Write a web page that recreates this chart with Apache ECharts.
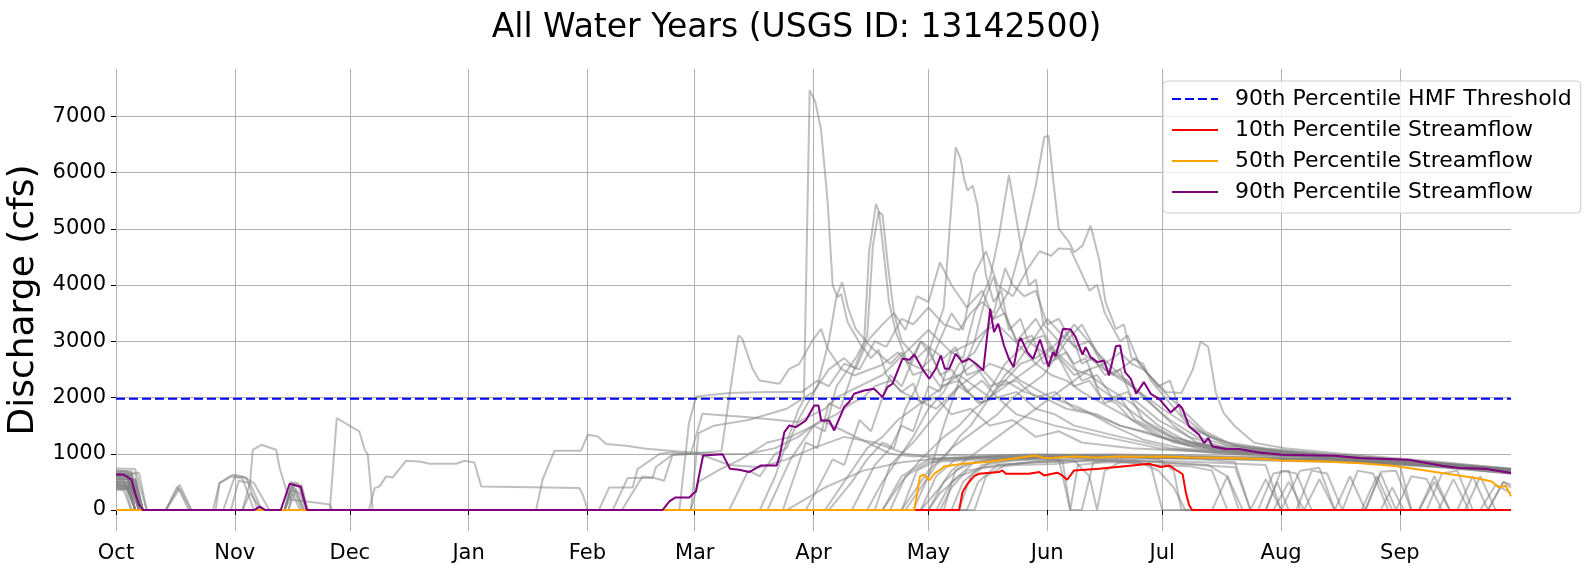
<!DOCTYPE html>
<html>
<head>
<meta charset="utf-8">
<script src="https://cdn.jsdelivr.net/npm/echarts@6/dist/echarts.min.js"></script>
<style>
  html, body { margin: 0; padding: 0; background: #fff; }
  #chart { width: 1593px; height: 571px; }
</style>
</head>
<body>
<div id="chart"></div>
<script>
// axis labels (day of water year, Oct 1 = 0)
const monthNames = ['Oct', 'Nov', 'Dec', 'Jan', 'Feb', 'Mar', 'Apr', 'May', 'Jun', 'Jul', 'Aug', 'Sep'];
const monthStarts = [0, 31, 61, 92, 123, 151, 182, 212, 243, 273, 304, 335];
const yTicks = [0, 1000, 2000, 3000, 4000, 5000, 6000, 7000];

const hmfThreshold = 1980;

// percentile curves, [day, cfs]
const p10 = [[0,0],[220,0],[220.9,320],[222.2,467],[223.9,604],[225.2,645],[230.4,675],[231.3,704],[232.2,645],[238.2,645],[240.9,675],[242.2,615],[244.3,645],[245.6,663],[246.9,615],[248.2,538],[250,704],[256.5,734],[265.2,793],[269.5,822],[272.6,764],[274.8,793],[276.5,716],[278.3,640],[279.2,300],[280,90],[280.8,0],[364,0]];

const p50 = [[0,0],[208.3,0],[209.8,604],[210.9,627],[212.2,526],[213.5,645],[214.8,704],[216.1,775],[220.9,822],[227,852],[233.9,911],[240,970],[242.2,923],[244.8,930],[250,950],[256,935],[262,950],[268,945],[273,952],[280,935],[290,924],[300,905],[304,880],[315.8,864],[325,830],[333,787],[340,720],[346,657],[354.7,568],[359,508],[360.8,402],[362.6,432],[364,242]];

const p90 = [[0,630],[2,630],[4,540],[5,300],[6,100],[7,0],[36,0],[37.5,60],[39,0],[43,0],[45.3,467],[46.3,450],[47.6,420],[48.2,420],[49.8,0],[142.6,0],[144.4,153],[146,224],[149.6,224],[150.5,284],[151.3,330],[153.2,970],[158.3,990],[160.2,734],[162.6,716],[165.2,675],[168.3,793],[172.4,793],[173.2,970],[174.4,1386],[175.7,1503],[177.4,1474],[180,1592],[182.2,1858],[183.3,1858],[184,1592],[186.1,1592],[187.4,1414],[190,1830],[191.3,1919],[192.6,2066],[195.2,2125],[197.8,2155],[198.7,2096],[200,2007],[201.3,2185],[202.6,2244],[205.2,2688],[207,2670],[208.3,2764],[210.4,2510],[212.2,2333],[213.9,2510],[215.2,2747],[216.3,2510],[217.4,2510],[219.1,2777],[220.9,2629],[222.6,2688],[224.4,2600],[226.3,2481],[228.1,3576],[229.1,3162],[230.2,3310],[231.7,2925],[233,2688],[234.2,2540],[235.5,2985],[236.1,3056],[237.8,2807],[239.3,2688],[241.1,3031],[243.3,2550],[244.5,2807],[245.2,2736],[247.1,3221],[249.1,3209],[250.4,3074],[252.2,2764],[253,2896],[254.3,2718],[256.1,2629],[257.8,2658],[259.1,2392],[260.9,2913],[262,2925],[263.3,2451],[264.8,2333],[266.2,2066],[268.2,2274],[270,2066],[272.2,1977],[275.2,1734],[277.4,1871],[278.2,1812],[280,1485],[282.6,1338],[283.9,1190],[285,1279],[286.1,1130],[289.5,1084],[293,1084],[298.2,1023],[304.3,982],[318.2,965],[324.3,924],[337.3,894],[346,787],[350.4,746],[357.3,734],[364,660]];

// individual water years, [day, cfs]
const wy01 = [[0,700],[4,690],[6,0],[44,0],[46,450],[48,420],[50,0],[168,0],[172,600],[175,1200],[178,1780],[179.5,1960],[181,7467],[182.5,7250],[184,6750],[185.7,5470],[187,4000],[188.3,3780],[189.2,3843],[190.9,3340],[194.4,2925],[197,2700],[199,2850],[201,2400],[205,2100],[208,2250],[210,1900],[214,2000],[218,1700],[223,1800],[228,1500],[234,1600],[240,1300],[246,1400],[252,1200],[265,1100],[280,1050],[300,1000],[320,900],[340,820],[364,700]];
const wy02 = [[0,650],[5,640],[7,0],[126,0],[128.7,402],[134.8,402],[136.1,728],[141.8,995],[144.4,1023],[150,1000],[158,1050],[160,2000],[162.4,3102],[163.4,3043],[166.1,2510],[167.9,2303],[173.1,2244],[175.7,2510],[178.3,2599],[181.7,3013],[184,3221],[185.7,2866],[189.2,2510],[192.6,2392],[196,2481],[199.6,2570],[204,2800],[207,2600],[210,3000],[213,2850],[216,2700],[219,2900],[222,2400],[226,2500],[230,2200],[235,2300],[240,2000],[245,2100],[250,1800],[256,1700],[262,1500],[275,1250],[290,1100],[310,1000],[335,880],[364,720]];
const wy03 = [[0,600],[3,580],[5,0],[33,0],[35,300],[38,0],[170,0],[176,900],[182,1500],[185,1400],[188,2200],[193,2700],[195.2,2985],[196.5,4583],[198.3,5441],[199.1,5294],[200.4,4523],[201.7,3695],[203.5,3162],[206.5,2629],[210,2510],[213,2700],[216,2300],[220,2400],[224,2600],[228,2200],[232,2300],[237,2100],[242,2000],[248,1800],[255,1700],[262,1500],[268,1400],[280,1150],[295,1050],[315,950],[340,850],[364,700]];
const wy04 = [[0,520],[4,500],[6,0],[45,0],[47,380],[49,0],[174,0],[180,1200],[183,1100],[186,1900],[189,1800],[192,2400],[196,3100],[197.5,4700],[199,5300],[200,5250],[201.5,4300],[203,3500],[205,3000],[209,2700],[212,2900],[215,2400],[218,2500],[222,2100],[226,2300],[230,2000],[235,2100],[240,1800],[245,1700],[250,1500],[262,1300],[275,1100],[290,1000],[310,950],[335,850],[364,720]];
const wy05 = [[0,450],[3,430],[5,0],[13,0],[16.6,450],[19.7,0],[160,0],[165,700],[168,600],[172,1000],[175,1100],[178,1600],[183,2200],[186,3000],[188,3800],[189.5,4050],[191,3600],[193,3221],[197,2900],[202,2600],[205,2800],[208,2400],[212,2500],[215,2200],[220,2300],[225,1900],[230,2000],[235,1700],[245,1500],[258,1300],[272,1100],[290,1000],[310,920],[335,820],[364,680]];
const wy06 = [[0,560],[5,550],[7,0],[186,0],[192,500],[196,900],[200,1200],[203,1100],[206,1800],[209,2200],[212,2800],[216,3600],[219.1,6449],[220.4,6241],[221.3,5886],[222.2,5678],[223.5,5767],[224.8,5411],[225.7,4878],[227,4168],[229,3700],[231,3900],[233,3200],[236,3400],[238,3000],[242,3100],[245,2700],[248,2800],[252,2300],[256,2400],[260,2000],[264,2100],[268,1600],[276,1300],[285,1100],[300,1000],[320,920],[345,800],[364,680]];
const wy07 = [[0,480],[4,470],[6,0],[28,0],[31,600],[34,580],[37,0],[192,0],[198,800],[202,1100],[205,1500],[208,1400],[212,2200],[215,2100],[218,2800],[221,2700],[224,3500],[228,4100],[230.4,4878],[233,5957],[234.8,5233],[236.1,4700],[238.2,3990],[240,4100],[242,3300],[246,3000],[249,3200],[252,2600],[255,2700],[258,2400],[262,2500],[265,2000],[272,1600],[280,1300],[290,1100],[305,1000],[325,900],[345,780],[364,650]];
const wy08 = [[0,620],[4,610],[6,0],[196,0],[200,500],[204,900],[208,1300],[212,1800],[216,2100],[220,2600],[224,2800],[228,3300],[233,3900],[237.4,4997],[240,5767],[242.2,6627],[243.3,6655],[243.8,6360],[244.7,5767],[246,4997],[248.7,4761],[250,4583],[252.2,4700],[254.3,5056],[256.5,4464],[258.2,3695],[260.9,3221],[263,3300],[265,2700],[268,2600],[270,2300],[275,1900],[280,1500],[290,1150],[302,1050],[320,950],[345,820],[364,700]];
const wy09 = [[0,400],[3,380],[5,0],[180,0],[184,500],[187,900],[190,800],[194,1600],[197,1400],[202,2400],[205,2200],[210,3000],[213,2700],[218,3500],[221,3200],[224,4200],[227,4600],[230,4000],[234,3800],[238,4300],[241,4600],[244,4520],[246,4650],[249,4640],[251,4350],[254,3900],[256,4000],[258,3500],[262,3000],[264,3100],[267,2600],[272,2200],[275,2300],[278,1700],[285,1300],[295,1100],[315,980],[340,850],[364,700]];
const wy10 = [[0,740],[5,730],[8,0],[150,0],[152,1368],[156,1500],[165,1600],[175,1800],[182,2100],[186,2500],[190,2700],[193,2500],[196,3000],[200,3300],[203,3500],[206,3200],[209,3800],[212,3700],[215,4400],[218,4000],[222,3600],[226,3900],[229,3400],[232,3500],[235,3000],[239,3100],[242,2600],[246,2700],[250,2200],[254,2300],[258,1900],[262,2000],[266,1600],[275,1300],[285,1150],[300,1050],[320,950],[345,830],[364,700]];
const wy11 = [[0,0],[147,0],[149.5,1545],[151.4,2018],[160,2080],[170,2096],[179,2100],[183,2300],[186,2200],[190,2600],[194,2500],[198,3000],[201,2900],[205,3400],[208,3300],[212,3600],[216,3300],[220,3200],[223,3500],[226,3700],[229,3500],[232,4300],[234,4000],[237,3800],[240,3900],[243,3300],[246,3400],[250,2900],[254,3000],[258,2500],[265,2200],[273,1800],[282,1400],[292,1150],[310,1000],[335,870],[364,720]];
const wy12 = [[0,380],[3,360],[5,0],[109.6,0],[111.3,538],[114.4,1053],[121.3,1053],[123.1,1338],[125.7,1308],[127.9,1172],[133.1,1142],[138.3,1089],[147,1041],[158,990],[165,1000],[172,1100],[178,1300],[184,1600],[190,1400],[196,1200],[202,1000],[208,950],[215,980],[225,960],[240,990],[255,970],[270,960],[285,940],[300,920],[320,880],[345,780],[364,650]];
const wy13 = [[0,0],[66,0],[67.5,390],[68.8,420],[70.5,598],[72.2,580],[75.7,876],[79.2,864],[81.8,822],[88.8,822],[90.9,876],[93.5,846],[95.3,420],[120.9,390],[121.8,272],[123.1,0],[175,0],[185,400],[195,700],[205,850],[212,900],[222,930],[235,950],[250,960],[265,950],[280,930],[300,900],[320,870],[340,800],[364,680]];
const wy14 = [[0,560],[5,540],[7,0],[55.8,0],[57.6,1634],[63.5,1396],[64.9,1071],[65.7,982],[67,0],[185,0],[190,500],[193,800],[196,1100],[200,1300],[204,1600],[208,1800],[212,2000],[216,2200],[220,2400],[224,2200],[228,2000],[232,2300],[236,2600],[240,2700],[244,2900],[247,2700],[250,2500],[254,2400],[258,2200],[265,1900],[272,1500],[280,1200],[292,1050],[310,980],[335,870],[364,720]];
const wy15 = [[0,460],[4,440],[6,0],[33,0],[35,500],[35.7,1071],[37.9,1160],[41.8,1071],[42.7,746],[44.4,360],[45.7,183],[49.6,153],[53,124],[55.7,100],[56.5,0],[200,0],[205,500],[210,900],[213,1100],[216,1300],[220,1500],[224,1800],[228,2000],[232,2200],[236,2400],[240,2600],[243,2800],[246,3000],[250,2600],[253,2700],[256,2200],[262,1900],[270,1500],[278,1200],[290,1050],[310,960],[335,860],[364,700]];
const wy16 = [[0,0],[132,0],[137.4,598],[140,580],[143,520],[145.2,982],[150,1000],[153,1712],[165,1650],[178,1563],[182,1700],[185,1800],[188,2000],[191,2100],[194,2200],[197,2300],[200,2400],[203,2600],[206,2800],[209,3000],[212,3200],[215,3000],[218,2800],[221,2900],[224,3000],[227,3200],[230,3300],[233,3100],[236,2900],[240,2600],[244,2400],[248,2300],[252,2100],[260,1800],[268,1500],[276,1200],[288,1050],[305,980],[330,880],[364,720]];
const wy17 = [[0,700],[3,690],[5,0],[44,0],[45.5,500],[47.5,470],[49.5,0],[129.6,0],[133.5,568],[140,568],[140.9,764],[145.2,982],[152,1000],[160,800],[168,760],[175,900],[182,1100],[190,1300],[198,1200],[206,1000],[214,920],[230,940],[250,950],[270,940],[290,920],[315,880],[340,820],[364,690]];
const wy18 = [[0,640],[4,620],[6,0],[13,0],[16,420],[19,0],[205,0],[208,300],[212,700],[215,900],[218,1100],[222,1300],[226,1500],[230,1700],[234,2000],[238,2200],[242,2400],[245,2700],[248,3000],[252,3300],[256,2800],[259,2600],[262,2400],[265,2200],[268,2000],[275,1600],[282,1300],[290,1150],[305,1050],[325,950],[348,820],[364,700]];
const wy19 = [[0,600],[3,600],[5,0],[30,0],[32,520],[35,480],[38,0],[208,0],[212,600],[216,1500],[220,2300],[224,3000],[227,3800],[229,4150],[231,3600],[235,3000],[240,3400],[245,2800],[250,2400],[254,2500],[257,2000],[261,1900],[265,1600],[272,1300],[282,1100],[295,1000],[315,930],[340,820],[364,690]];
const wy20 = [[0,540],[2,530],[4,0],[210,0],[215,400],[218,700],[222,900],[226,1100],[230,1300],[234,1500],[238,1700],[242,1900],[246,2100],[250,2300],[254,2500],[258,2600],[262,2800],[265,2600],[268,2500],[271,2300],[274,2100],[278,2080],[281,2500],[283,2995],[285,2900],[287,2080],[289,1728],[292,1485],[297,1195],[305,1100],[320,1000],[345,860],[364,730]];
const wy21 = [[0,500],[5,480],[7,0],[44,0],[46,300],[48,0],[212,0],[215,300],[220,600],[226,750],[235,800],[245,820],[255,900],[265,950],[272,900],[276,700],[278,0],[300,0],[303,500],[306,0],[330,0],[333,400],[336,0],[364,0]];
const wy22 = [[0,420],[4,400],[6,0],[215,0],[218,400],[222,700],[230,800],[240,850],[255,870],[270,860],[285,800],[290,600],[293,0],[298,0],[302,650],[306,700],[309,0],[318,0],[322,600],[326,0],[340,0],[344,500],[348,0],[356,0],[360,450],[364,300]];
const wy23 = [[0,580],[3,560],[6,0],[45,0],[46.5,470],[48.5,430],[50,0],[212,0],[216,500],[221,800],[228,900],[240,940],[255,950],[270,930],[284,900],[292,850],[296,0],[304,0],[309,700],[314,750],[318,0],[326,0],[330,680],[334,700],[338,0],[350,0],[354,600],[358,0],[364,0]];
const wy24 = [[0,680],[6,660],[8,0],[200,0],[205,600],[212,900],[225,950],[240,980],[260,990],[280,970],[300,940],[320,880],[340,800],[364,690]];
const wy25 = [[0,360],[2,350],[4,0],[26,0],[27,480],[30,600],[33,560],[36,0],[206,0],[210,400],[214,800],[217,1000],[220,1300],[223,1500],[226,1800],[229,2100],[232,2400],[235,2600],[238,2900],[243,3400],[247,3100],[252,2800],[258,2500],[264,2300],[270,1900],[276,1500],[282,1200],[292,1050],[310,980],[335,880],[364,730]];
const wy26 = [[0,500],[4,490],[6,0],[218,0],[221,500],[226,800],[234,880],[242,900],[250,880],[254,600],[256,0],[258,700],[262,850],[266,880],[272,700],[276,400],[279,0],[310,0],[314,550],[318,0],[364,0]];
const wy27 = [[0,470],[3,450],[5,0],[44,0],[46,420],[48.5,0],[214,0],[218,500],[224,850],[235,920],[250,940],[265,930],[280,920],[300,880],[320,850],[335,800],[338,0],[342,0],[346,650],[350,700],[354,0],[358,0],[362,500],[364,400]];
const wy28 = [[0,660],[4,650],[7,0],[210,0],[214,600],[219,900],[230,960],[245,980],[260,970],[275,960],[290,940],[305,920],[325,880],[345,800],[364,700]];
const wy29 = [[0,550],[5,530],[7,0],[222,0],[225,500],[230,800],[240,850],[247,870],[249,0],[251,800],[258,850],[265,840],[270,800],[273,0],[286,0],[290,600],[294,0],[300,0],[304,700],[308,650],[312,0],[325,0],[329,600],[333,0],[345,0],[349,550],[353,0],[364,0]];
const wy30 = [[0,440],[3,420],[5,0],[13,0],[16.6,380],[19.5,0],[44,0],[45.5,350],[48,300],[50,0],[205,0],[209,700],[214,880],[225,920],[240,940],[255,950],[270,940],[285,920],[300,900],[320,860],[345,760],[364,650]];
const wy31 = [[0,0],[25.3,0],[27,480],[30.5,627],[33,600],[36,480],[40,0],[202,0],[206,600],[212,850],[225,900],[240,930],[260,940],[280,930],[300,910],[320,870],[345,780],[364,690]];
const wy32 = [[0,620],[4,610],[6,0],[150,0],[152,500],[157,700],[163,900],[170,1200],[176,1300],[182,1500],[188,1700],[192,1900],[195,2000],[198,2200],[202,2300],[205,2100],[208,2000],[214,1800],[217,2000],[220,2200],[224,2400],[228,2600],[232,2500],[236,2300],[244,2000],[252,1800],[260,1500],[268,1250],[278,1100],[292,1020],[310,960],[335,870],[364,720]];
const wy33 = [[0,400],[4,380],[6,0],[220,0],[223,600],[228,850],[236,900],[246,950],[256,900],[264,850],[270,800],[280,780],[286,700],[290,0],[296,0],[300,550],[304,0],[320,0],[324,700],[328,650],[332,0],[340,0],[344,600],[348,0],[358,0],[362,500],[364,450]];
const wy34 = [[0,390],[3,370],[5,0],[216,0],[219,700],[224,850],[232,900],[240,920],[246,900],[249,0],[252,0],[255,850],[262,900],[270,880],[280,860],[290,830],[300,800],[304,0],[308,0],[312,700],[316,650],[320,0],[334,0],[338,600],[342,550],[346,0],[364,0]];
const wy35 = [[0,610],[4,590],[6,0],[44,0],[46,480],[49,0],[224,0],[227,600],[232,800],[242,880],[252,900],[262,890],[272,850],[282,800],[292,760],[296,0],[302,0],[306,500],[310,0],[326,0],[330,650],[334,0],[352,0],[356,600],[360,0],[364,0]];
const wy36 = [[0,430],[5,410],[7,0],[198,0],[202,800],[208,1200],[214,1700],[220,2200],[226,1900],[232,2600],[238,3000],[244,2700],[250,3300],[255,2900],[260,2400],[266,2700],[272,2200],[278,1800],[284,1400],[290,1200],[300,1100],[315,1000],[335,900],[364,740]];

const waterYears = [wy01, wy02, wy03, wy04, wy05, wy06, wy07, wy08, wy09, wy10, wy11, wy12, wy13, wy14, wy15, wy16, wy17, wy18,
                    wy19, wy20, wy21, wy22, wy23, wy24, wy25, wy26, wy27, wy28, wy29, wy30, wy31, wy32, wy33, wy34, wy35, wy36];

const font = 'DejaVu Sans';
let myChart = echarts.init(document.getElementById('chart'));

// gray lines for every year
let series = waterYears.map(function (d) {
    return {
        type: 'line',
        data: d,
        symbol: 'none',
        silent: true,
        lineStyle: { color: '#808080', width: 2, opacity: 0.5 }
    };
});

series.push({
    name: '90th Percentile HMF Threshold',
    type: 'line',
    data: [[0, hmfThreshold], [364, hmfThreshold]],
    symbol: 'none',
    itemStyle: { color: '#0000ff' },
    lineStyle: { color: '#0000ff', width: 2, type: [9, 4] }
});
series.push({
    name: '10th Percentile Streamflow',
    type: 'line', data: p10, symbol: 'none',
    itemStyle: { color: '#ff0000' },
    lineStyle: { color: '#ff0000', width: 2 }
});
series.push({
    name: '50th Percentile Streamflow',
    type: 'line', data: p50, symbol: 'none',
    itemStyle: { color: '#ffa500' },
    lineStyle: { color: '#ffa500', width: 2 }
});
series.push({
    name: '90th Percentile Streamflow',
    type: 'line', data: p90, symbol: 'none',
    itemStyle: { color: '#800080' },
    lineStyle: { color: '#800080', width: 2 }
});

myChart.setOption({
    animation: false,
    title: {
        text: 'All Water Years (USGS ID: 13142500)',
        left: 'center',
        top: 7,
        textStyle: { fontFamily: font, fontSize: 33, fontWeight: 'normal', color: '#000' }
    },
    legend: {
        data: ['90th Percentile HMF Threshold', '10th Percentile Streamflow', '50th Percentile Streamflow', '90th Percentile Streamflow'],
        orient: 'vertical',
        left: 1163,
        top: 81,
        padding: [7, 9, 10, 8],
        itemGap: 9,
        itemWidth: 46,
        itemHeight: 14,
        itemStyle: { opacity: 0 },
        backgroundColor: 'rgba(255,255,255,0.8)',
        borderColor: '#cccccc',
        borderWidth: 1,
        borderRadius: 4,
        formatter: function (name) { return '{t|' + name + '}'; },
        textStyle: {
            fontFamily: font, fontSize: 22, color: '#000',
            rich: { t: { fontFamily: font, fontSize: 22, color: '#000', padding: [0, 0, 0, 12] } }
        }
    },
    grid: { left: 116, right: 82, top: 69, bottom: 40, outerBoundsMode: 'none' },
    xAxis: {
        type: 'value',
        min: 0,
        max: 364,
        axisLine: { show: false },
        axisTick: { show: true, length: 5, customValues: monthStarts, lineStyle: { color: '#000' } },
        axisLabel: {
            customValues: monthStarts,
            formatter: function (v) { return monthNames[monthStarts.indexOf(v)]; },
            fontFamily: font, fontSize: 21, color: '#000', margin: 12
        },
        splitLine: { show: true, lineStyle: { color: '#b0b0b0', width: 1 } }
    },
    yAxis: {
        type: 'value',
        min: -373,
        max: 7840,
        name: 'Discharge (cfs)',
        nameLocation: 'middle',
        nameRotate: 90,
        nameGap: 73,
        nameTextStyle: { fontFamily: font, fontSize: 36, color: '#000' },
        axisLine: { show: false },
        axisTick: { show: true, length: 5, customValues: yTicks, lineStyle: { color: '#000' } },
        axisLabel: {
            customValues: yTicks,
            formatter: function (v) { return String(v); },
            fontFamily: font, fontSize: 21, color: '#000', margin: 10
        },
        splitLine: { show: true, lineStyle: { color: '#b0b0b0', width: 1 } }
    },
    series: series
});
</script>
</body>
</html>
